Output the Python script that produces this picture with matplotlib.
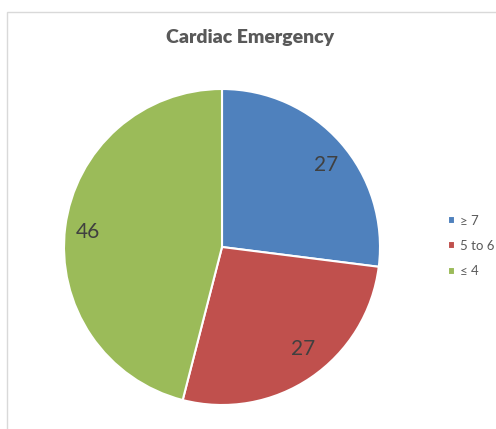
import matplotlib.pyplot as plt
from matplotlib.patches import Rectangle

labels = ['\u2265 7', '5 to 6', '\u2264 4']
values = [27, 27, 46]
colors = ['#4F81BD', '#C0504D', '#9BBB59']

plt.rcParams['font.family'] = ['Lato', 'DejaVu Sans']

fig = plt.figure(figsize=(4.96, 4.29), dpi=100)
fig.patches.append(Rectangle((6.5 / 496, -0.1), 1.2, 1 - 11.5 / 429 + 0.1,
                             transform=fig.transFigure, fill=False,
                             edgecolor='#D9D9D9', linewidth=1))

# pie box: centre about (222, 247) px, radius about 158 px
ax = fig.add_axes([64 / 496, 24 / 429, 316 / 496, 316 / 429])
wedges, texts = ax.pie(values, colors=colors, startangle=90, counterclock=False,
                       labels=[str(v) for v in values], labeldistance=0.78,
                       wedgeprops=dict(edgecolor='white', linewidth=1.5),
                       textprops=dict(fontsize=15, color='#404040'))
ax.set_xlim(-1, 1)
ax.set_ylim(-1, 1)
ax.set_aspect('equal')

fig.text(250 / 496, 1 - 37 / 429, 'Cardiac Emergency', ha='center', va='center',
         fontsize=14, fontweight='heavy', color='#595959')

fig.legend(wedges, labels, loc='center left', bbox_to_anchor=(436 / 496, 1 - 246 / 429),
           frameon=False, fontsize=9.5, labelcolor='#595959', handlelength=0.55,
           handleheight=0.55, handletextpad=0.4, labelspacing=1.0)

fig.savefig('out.png', dpi=100)
